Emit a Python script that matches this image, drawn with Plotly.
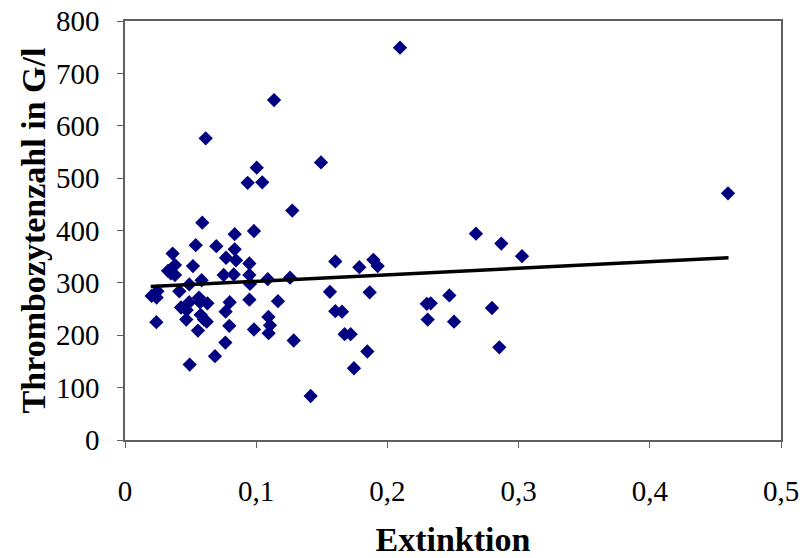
import plotly.graph_objects as go

# Extinktion (x) and platelet count in G/l (y) per sample
extinktion = [
    0.0615, 0.1004, 0.0935, 0.1046, 0.1275, 0.0589, 0.0836, 0.0983,
    0.2096, 0.1136, 0.1494, 0.2675, 0.2868, 0.3026, 0.1603, 0.1786,
    0.1893, 0.1926, 0.1562, 0.1865, 0.1603, 0.1654, 0.1674, 0.1720,
    0.1847, 0.1745, 0.1415, 0.2300, 0.2330, 0.2472, 0.2307, 0.2508,
    0.2797, 0.2853, 0.4596,
    0.0539, 0.0696, 0.0836, 0.0363, 0.0770, 0.0846, 0.0381, 0.0518,
    0.0948, 0.0328, 0.0381, 0.0752, 0.0829, 0.0948, 0.1088, 0.1258,
    0.0584, 0.0490, 0.0414, 0.0953, 0.0247, 0.0203, 0.0241, 0.0490,
    0.0564, 0.0572, 0.0628, 0.0798, 0.0948, 0.1166, 0.0427, 0.0470,
    0.0767, 0.0577, 0.1093, 0.0467, 0.0602, 0.0239, 0.1105, 0.0623,
    0.0795, 0.0556, 0.0983, 0.1095, 0.1286, 0.0765, 0.0686, 0.0493,
    0.0350,
]
thrombozyten = [
    576, 520, 491, 492, 438, 415, 393, 399,
    749, 649, 530, 394, 375, 351, 341, 330,
    344, 332, 283, 282, 246, 245, 202, 202,
    169, 137, 84, 260, 261, 276, 230, 226,
    252, 177, 471,
    372, 370, 364, 356, 348, 343, 334, 332,
    337, 323, 315, 315, 316, 315, 307, 310,
    305, 297, 284, 298, 284, 275, 272, 263,
    272, 263, 261, 263, 268, 265, 253, 248,
    245, 239, 235, 230, 230, 225, 219, 226,
    218, 209, 211, 204, 190, 186, 160, 144,
    318,
]

# Linear trend line endpoints
trend_x = [0.0196, 0.4600]
trend_y = [293, 348]

x_ticks = [0, 0.1, 0.2, 0.3, 0.4, 0.5]
y_ticks = [0, 100, 200, 300, 400, 500, 600, 700, 800]

serif = "Liberation Serif, Times New Roman, serif"

fig = go.Figure()
fig.add_trace(go.Scatter(
    x=extinktion, y=thrombozyten, mode="markers",
    marker=dict(symbol="diamond", size=11, color="#000080",
                line=dict(width=0)),
    showlegend=False, cliponaxis=False,
))
fig.add_trace(go.Scatter(
    x=trend_x, y=trend_y, mode="lines",
    line=dict(color="black", width=3.5),
    showlegend=False,
))

fig.update_layout(
    width=802, height=558,
    margin=dict(l=125, r=21, t=21, b=118),
    paper_bgcolor="white", plot_bgcolor="white",
    separators=",.",
    font=dict(family=serif, size=29, color="black"),
)
fig.update_xaxes(
    range=[0, 0.5], tickvals=x_ticks, showgrid=False, zeroline=False,
    showline=True, linecolor="#606060", linewidth=1.5, mirror=True,
    ticks="outside", ticklen=6, tickcolor="#606060", automargin=False,
    tickfont=dict(size=29), ticklabelstandoff=18,
    title=dict(text="<b>Extinktion</b>", font=dict(size=34), standoff=22),
)
fig.update_yaxes(
    range=[0, 800], tickvals=y_ticks, showgrid=False, zeroline=False,
    showline=True, linecolor="#606060", linewidth=1.5, mirror=True,
    ticks="outside", ticklen=6, tickcolor="#606060", automargin=False,
    tickfont=dict(size=29), ticklabelstandoff=12,
    title=dict(text="<b>Thrombozytenzahl in G/l</b>", font=dict(size=34),
               standoff=0),
)

fig.write_html("out.html")
